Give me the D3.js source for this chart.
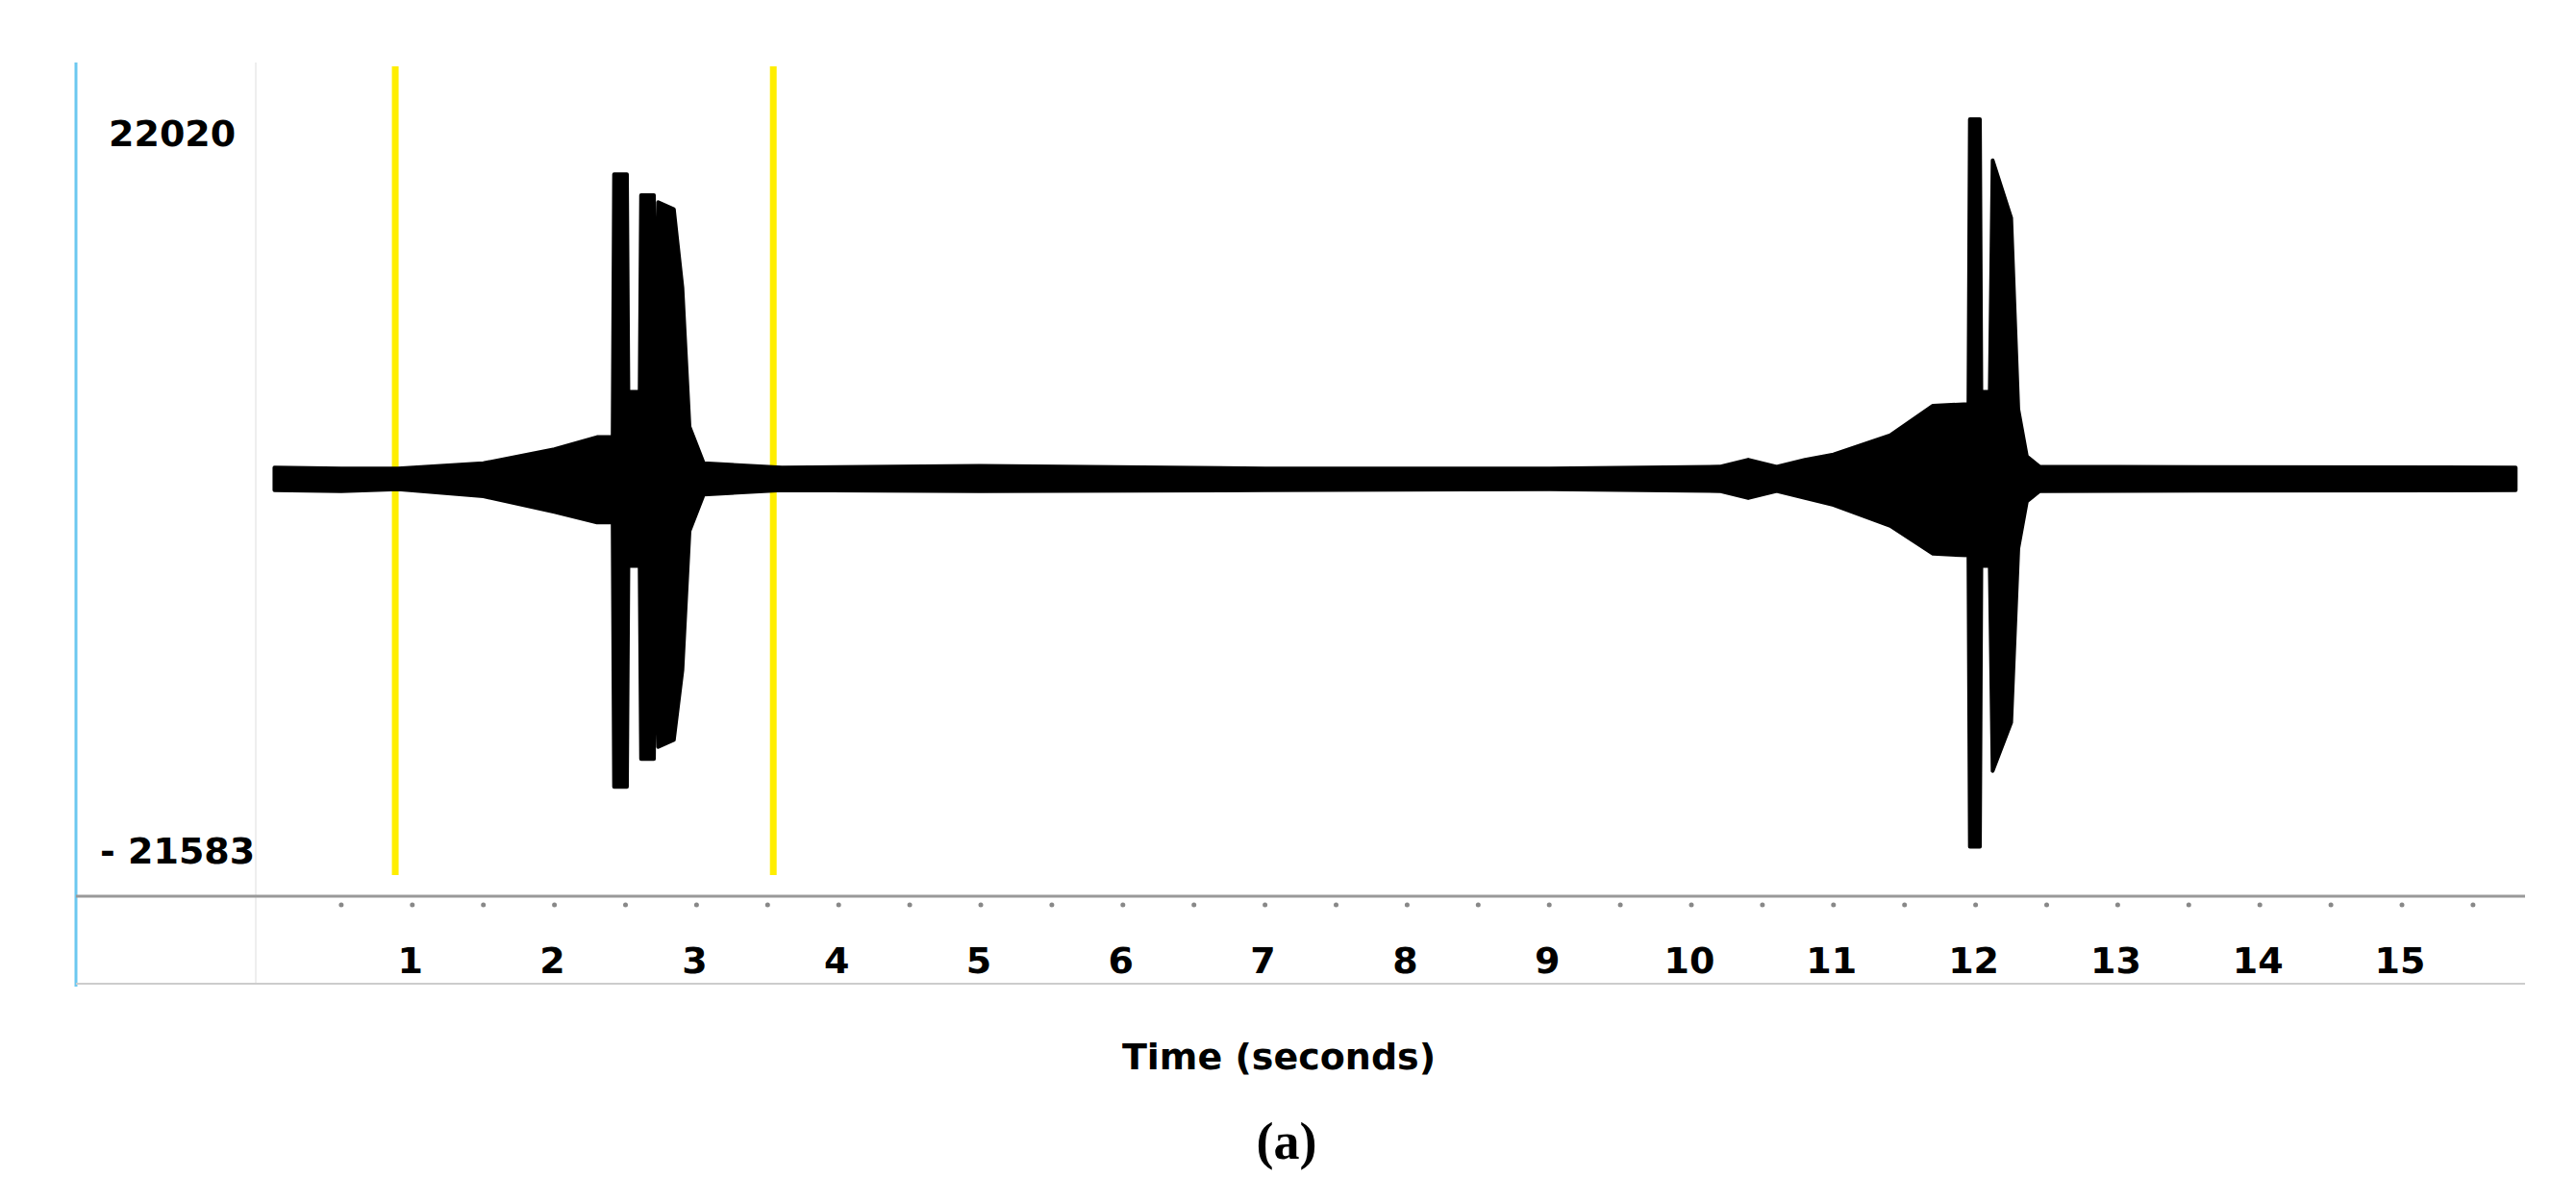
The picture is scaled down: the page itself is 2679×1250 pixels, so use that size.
<!DOCTYPE html>
<html><head><meta charset="utf-8">
<script src="https://cdn.jsdelivr.net/npm/d3@7"></script>
<style>body{margin:0;background:#fff}svg{display:block}</style>
</head><body>
<svg id="chart" width="2679" height="1250"></svg>
<script>
// envelope of the waveform: [time (s), upper amplitude, lower amplitude]
const envelope = [
  [0.03, 650, 650], [0.5, 600, 700], [0.9, 600, 600], [1.5, 900, 1000], [2.0, 1700, 1900],
  [2.3, 2400, 2500], [2.41, 2400, 2500], [2.42, 17500, 17700], [2.51, 17500, 17700],
  [2.52, 5000, 5000], [2.60, 5000, 5000], [2.61, 16300, 16100], [2.70, 16300, 16100],
  [2.71, 6000, 6000], [2.73, 15900, 15400], [2.84, 15500, 15000], [2.90, 11000, 11000],
  [2.95, 3000, 3000], [3.05, 900, 900], [3.6, 650, 650], [5.0, 750, 700], [7.0, 600, 650],
  [9.0, 600, 600], [10.2, 700, 700], [10.4, 1100, 1100], [10.6, 700, 700], [10.8, 1100, 1100],
  [11.0, 1400, 1500], [11.4, 2500, 2700], [11.7, 4200, 4300], [11.95, 4300, 4400],
  [11.96, 20670, 21140], [12.03, 20670, 21140], [12.04, 5000, 5000], [12.1, 5000, 5000],
  [12.12, 18300, 16780], [12.25, 15000, 14000], [12.3, 4000, 4000], [12.36, 1300, 1300],
  [12.45, 700, 700], [15.8, 650, 650]
];
const markers = [0.88, 3.54];
const tickLabels = d3.range(1, 16);
const yMax = 22020, yMin = -21583;

const svg = d3.select("#chart");
const x = d3.scaleLinear().domain([0, 1]).range([281, 281 + 147.8]);
const y = d3.scaleLinear().domain([yMin, yMax]).range([892, 103]);
const yc = v => y(v) + (498 - y(0));

// frame lines
svg.append("line").attr("x1", 79).attr("x2", 79).attr("y1", 65).attr("y2", 1026)
  .attr("stroke", "#6cc8f0").attr("stroke-width", 3);
svg.append("line").attr("x1", 266).attr("x2", 266).attr("y1", 65).attr("y2", 1023)
  .attr("stroke", "#eee").attr("stroke-width", 2);
svg.append("line").attr("x1", 79).attr("x2", 2626).attr("y1", 932).attr("y2", 932)
  .attr("stroke", "#999").attr("stroke-width", 3);
svg.append("line").attr("x1", 79).attr("x2", 2626).attr("y1", 1023).attr("y2", 1023)
  .attr("stroke", "#ccc").attr("stroke-width", 2);

// x axis
const axis = svg.append("g").attr("transform", "translate(0,932)");
axis.selectAll("circle.minor").data(d3.range(0.5, 15.9, 0.5)).join("circle")
  .attr("class", "minor").attr("cx", d => x(d)).attr("cy", 9).attr("r", 2.5).attr("fill", "#888");
axis.selectAll("text").data(tickLabels).join("text")
  .attr("x", d => x(d) - 2).attr("y", 80).attr("text-anchor", "middle")
  .attr("font-family", "DejaVu Sans").attr("font-weight", "bold").attr("font-size", 38)
  .text(d => d);

// markers
svg.selectAll("line.marker").data(markers).join("line").attr("class", "marker")
  .attr("x1", d => x(d)).attr("x2", d => x(d)).attr("y1", 69).attr("y2", 910)
  .attr("stroke", "#ffee00").attr("stroke-width", 7);

// waveform
const area = d3.area().x(d => x(d[0])).y0(d => yc(-d[2])).y1(d => yc(d[1]));
svg.append("path").datum(envelope).attr("d", area)
  .attr("fill", "#000").attr("stroke", "#000").attr("stroke-width", 4).attr("stroke-linejoin", "round");

// labels
const lab = (t, px, py, size, anchor, fam) => svg.append("text").attr("x", px).attr("y", py)
  .attr("text-anchor", anchor || "start").attr("font-family", fam || "DejaVu Sans")
  .attr("font-weight", "bold").attr("font-size", size).text(t);
lab(yMax, 113, 152, 38);
lab("- " + Math.abs(yMin), 104, 898, 38);
lab("Time (seconds)", 1330, 1112, 38, "middle");
lab("(a)", 1338, 1205, 54, "middle", "Liberation Serif");
</script>
</body></html>
